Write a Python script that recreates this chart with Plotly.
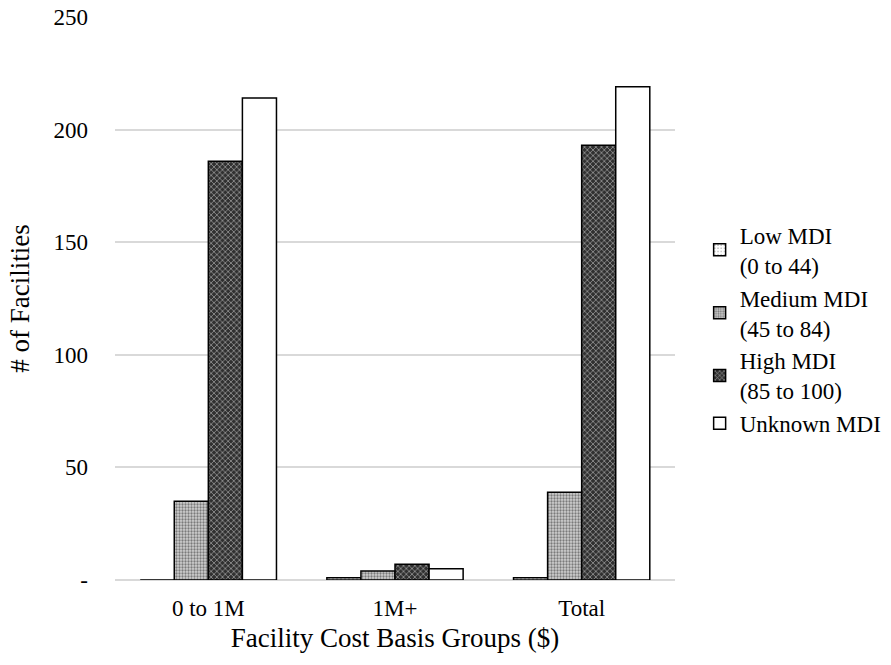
import plotly.graph_objects as go

# Facility counts by cost basis group and MDI band
categories = ["0 to 1M", "1M+", "Total"]
low_mdi = [0, 1, 1]
medium_mdi = [35, 4, 39]
high_mdi = [186, 7, 193]
unknown_mdi = [214, 5, 219]

series_names = ["Low MDI<br>(0 to 44)", "Medium MDI<br>(45 to 84)",
                "High MDI<br>(85 to 100)", "Unknown MDI"]

y_tick_vals = [0, 50, 100, 150, 200, 250]
y_tick_text = ["-", "50", "100", "150", "200", "250"]

FONT = "Liberation Serif"

styles = [
    dict(color="white", pattern=dict(shape=".", fgcolor="#9a9a9a", bgcolor="white",
                                     size=4, solidity=0.15, fillmode="replace")),
    dict(color="#bdbdbd", pattern=dict(shape=".", fgcolor="#7a7a7a", bgcolor="#d0d0d0",
                                       size=3, solidity=0.45, fillmode="replace")),
    dict(color="#3a3a3a", pattern=dict(shape="x", fgcolor="#9a9a9a", bgcolor="#303030",
                                       size=4, solidity=0.35, fillmode="replace")),
    dict(color="white"),
]

fig = go.Figure()
for i, (name, vals, st) in enumerate(zip(series_names,
                                         [low_mdi, medium_mdi, high_mdi, unknown_mdi],
                                         styles)):
    fig.add_trace(go.Bar(
        x=categories, y=vals, name=name, legendgroup=f"g{i}",
        marker=dict(line=dict(color="black", width=1.5), **st),
    ))

fig.update_layout(
    width=891, height=665,
    margin=dict(l=115, r=216, t=17, b=85, autoexpand=False),
    paper_bgcolor="white", plot_bgcolor="white",
    barmode="group", bargap=0.27, bargroupgap=0,
    font=dict(family=FONT, size=23, color="black"),
    legend=dict(x=1.044, xanchor="left", y=0.445, yanchor="middle",
                font=dict(family=FONT, size=23, color="black"),
                tracegroupgap=2, itemwidth=30, traceorder="normal"),
    xaxis=dict(showline=False, showgrid=False, ticks="", ticklabelstandoff=12,
               tickfont=dict(family=FONT, size=23),
               title=dict(text="Facility Cost Basis Groups ($)", standoff=8,
                          font=dict(family=FONT, size=27))),
    yaxis=dict(range=[0, 250], tickvals=y_tick_vals, ticktext=y_tick_text,
               tickfont=dict(family=FONT, size=23),
               showgrid=True, gridcolor="#d9d9d9", gridwidth=1.5,
               zeroline=True, zerolinecolor="#d9d9d9", zerolinewidth=1.5,
               ticks="", ticklabelstandoff=26, showline=False,
               title=dict(text="# of Facilities", standoff=16,
                          font=dict(family=FONT, size=27))),
)

fig.write_html("out.html")
